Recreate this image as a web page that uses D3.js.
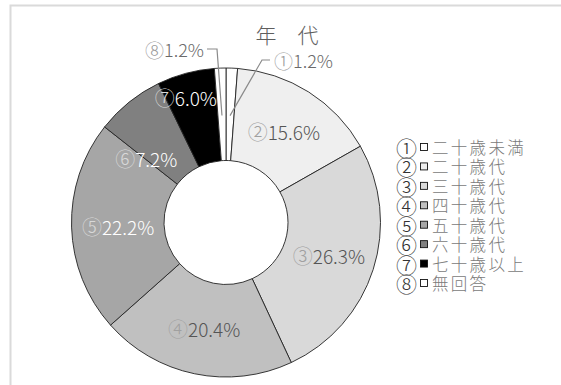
<!DOCTYPE html>
<html>
<head>
<meta charset="utf-8">
<script src="https://cdn.jsdelivr.net/npm/d3@7"></script>
<style>
  html, body { margin: 0; padding: 0; background: #fff; }
  svg { display: block; font-family: "Noto Sans CJK JP", "Noto Sans", sans-serif; font-weight: 300; }
</style>
</head>
<body>
<svg id="chart" width="561" height="385"></svg>
<script>
// Age distribution of respondents (percent)
const marks = ["①", "②", "③", "④", "⑤", "⑥", "⑦", "⑧"];
const categories = ["二十歳未満", "二十歳代", "三十歳代", "四十歳代", "五十歳代", "六十歳代", "七十歳以上", "無回答"];
const shares = [1.2, 15.6, 26.3, 20.4, 22.2, 7.2, 6.0, 1.2];
const fills = ["#ffffff", "#efefef", "#d9d9d9", "#c0c0c0", "#a6a6a6", "#808080", "#000000", "#ffffff"];
const title = "年　代";

const data = categories.map((c, i) => ({ mark: marks[i], name: c, value: shares[i], fill: fills[i] }));

const svg = d3.select("#chart");

// light frame around the chart area
svg.append("rect")
  .attr("x", 10.5).attr("y", 5.5)
  .attr("width", 600).attr("height", 420)
  .attr("fill", "none").attr("stroke", "#dadada").attr("stroke-width", 2);

const cx = 226, cy = 222.5;
const outerR = 154.5, innerR = 62;

const pie = d3.pie().value(d => d.value).sort(null);
const arc = d3.arc().innerRadius(innerR).outerRadius(outerR);
const labelArc = d3.arc().innerRadius(108).outerRadius(108);
const leaderArc = d3.arc().innerRadius(107).outerRadius(107);

const arcs = pie(data);
const g = svg.append("g").attr("transform", `translate(${cx},${cy})`);

g.selectAll("path.slice")
  .data(arcs)
  .join("path")
  .attr("class", "slice")
  .attr("d", arc)
  .attr("fill", d => d.data.fill)
  .attr("stroke", "#222")
  .attr("stroke-width", 0.9);

// labels inside the ring
const nudge = { 5: [-12, 20], 6: [-12, -21] };
const darkSlice = i => i >= 4 && i <= 6;

const inside = arcs.filter(a => a.index >= 1 && a.index <= 6);
const inLabels = g.selectAll("text.in")
  .data(inside)
  .join("text")
  .attr("class", "in")
  .attr("text-anchor", "middle")
  .attr("dominant-baseline", "central")
  .attr("font-size", 19)
  .attr("transform", d => {
    const [x, y] = labelArc.centroid(d);
    const n = nudge[d.index] || [0, 0];
    return `translate(${x + n[0]},${y + n[1]})`;
  });
inLabels.append("tspan")
  .attr("font-size", 20)
  .attr("fill", d => darkSlice(d.index) ? "#d8d8d8" : "#a0a0a0")
  .text(d => d.data.mark);
inLabels.append("tspan")
  .attr("fill", d => darkSlice(d.index) ? "#ffffff" : "#555555")
  .text(d => d3.format(".1f")(d.data.value) + "%");

// outside labels with leader lines for the two thin slices
const outside = [
  { a: arcs[7], knee: [217 - cx, 49 - cy], end: [207 - cx, 49 - cy], anchor: "end", tx: 204 - cx },
  { a: arcs[0], knee: [262 - cx, 60 - cy], end: [270 - cx, 60 - cy], anchor: "start", tx: 274 - cx }
];
outside.forEach(o => {
  const p = leaderArc.centroid(o.a);
  g.append("polyline")
    .attr("points", [p, o.knee, o.end].map(q => q.join(",")).join(" "))
    .attr("fill", "none").attr("stroke", "#8a8a8a").attr("stroke-width", 1.2);
  const t = g.append("text")
    .attr("x", o.tx).attr("y", o.end[1])
    .attr("text-anchor", o.anchor)
    .attr("dominant-baseline", "central")
    .attr("font-size", 18);
  t.append("tspan").attr("font-size", 19).attr("fill", "#9a9a9a").text(o.a.data.mark);
  t.append("tspan").attr("fill", "#6a6a6a").text(d3.format(".1f")(o.a.data.value) + "%");
});

// title
svg.append("text")
  .attr("x", 287).attr("y", 34)
  .attr("text-anchor", "middle")
  .attr("dominant-baseline", "central")
  .attr("font-size", 21)
  .attr("fill", "#5e5e5e")
  .text(title);

// legend
const rowY = d3.scalePoint().domain(d3.range(data.length)).range([147, 283]);
const legend = svg.append("g");
const rows = legend.selectAll("g.row")
  .data(data)
  .join("g")
  .attr("class", "row")
  .attr("transform", (d, i) => `translate(0,${rowY(i)})`);
rows.append("text")
  .attr("x", 406.5).attr("y", 0)
  .attr("text-anchor", "middle")
  .attr("dominant-baseline", "central")
  .attr("font-size", 21)
  .attr("fill", "#333")
  .text(d => d.mark);
rows.append("rect")
  .attr("x", 420.5).attr("y", -3.5)
  .attr("width", 7).attr("height", 7)
  .attr("fill", d => d.fill)
  .attr("stroke", "#111").attr("stroke-width", 0.9);
rows.append("text")
  .attr("x", 432).attr("y", 0)
  .attr("dominant-baseline", "central")
  .attr("font-size", 16.5)
  .attr("letter-spacing", 2.3)
  .attr("fill", "#7a7a7a")
  .text(d => d.name);
</script>
</body>
</html>
